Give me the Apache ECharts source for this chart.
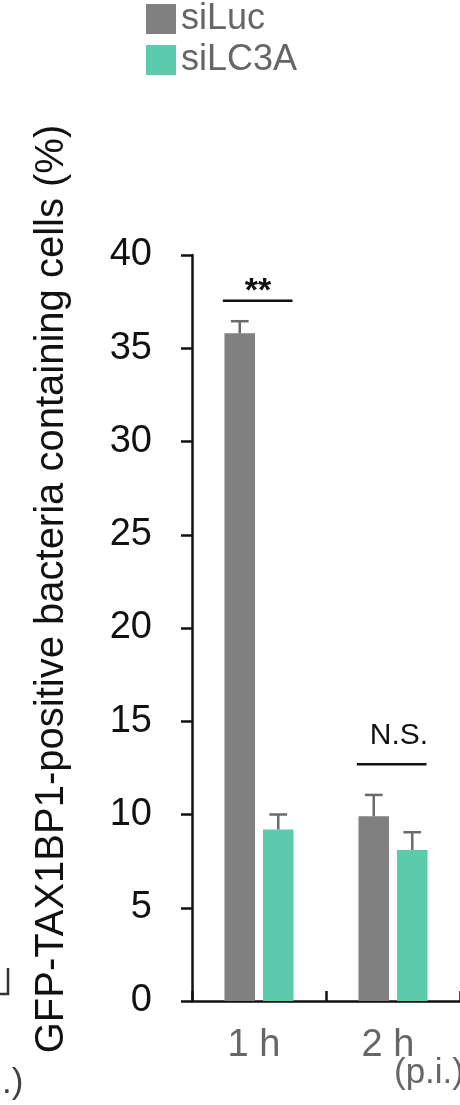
<!DOCTYPE html>
<html>
<head>
<meta charset="utf-8">
<script src="https://cdn.jsdelivr.net/npm/echarts@6/dist/echarts.min.js"></script>
<style>
html,body{margin:0;padding:0;background:#fff;}
#c{width:460px;height:1105px;}
</style>
</head>
<body>
<div id="c"></div>
<script>
// ---- data ----
var categories = ['1 h', '2 h'];
var seriesNames = ['siLuc', 'siLC3A'];
var siLucMean = [35.8, 9.9];
var siLucErr = [0.65, 1.15];
var siLC3AMean = [9.2, 8.1];
var siLC3AErr = [0.8, 0.95];
var yTicks = [0, 5, 10, 15, 20, 25, 30, 35, 40];
var sigLabels = ['**', 'N.S.'];
var sigLevels = [37.55, 12.7];

var FONT = "'Liberation Sans', Arial, sans-serif";
var colors = ['#808080', '#5ccbab'];
var BAR_FRAC = 0.228, GAP_FRAC = 0.26;

function errRender(seriesIdx) {
  return function (params, api) {
    var cat = api.value(0), mean = api.value(1), err = api.value(2);
    var band = api.size([1, 0])[0];
    var bw = band * BAR_FRAC;
    var off = (bw + bw * GAP_FRAC) / 2 * (seriesIdx === 0 ? -1 : 1);
    var p0 = api.coord([cat, mean]);
    var p1 = api.coord([cat, mean + err]);
    var x = p0[0] + off;
    var capHalf = bw * 0.29;
    var st = { stroke: '#6a6a6a', lineWidth: 2.5 };
    return {
      type: 'group',
      children: [
        { type: 'line', shape: { x1: x, y1: p0[1], x2: x, y2: p1[1] }, style: st },
        { type: 'line', shape: { x1: x - capHalf, y1: p1[1], x2: x + capHalf, y2: p1[1] }, style: st }
      ]
    };
  };
}

function sigRender(params, api) {
  var cat = api.value(0), lvl = api.value(1);
  var label = sigLabels[params.dataIndex];
  var band = api.size([1, 0])[0];
  var p = api.coord([cat, lvl]);
  var x1 = p[0] - band * 0.27, x2 = p[0] + band * 0.25;
  var isStar = label === '**';
  return {
    type: 'group',
    children: [
      { type: 'line', shape: { x1: x1, y1: p[1], x2: x2, y2: p[1] }, style: { stroke: '#111', lineWidth: 2.5 } },
      { type: 'text', x: isStar ? p[0] - 1 : p[0] + 6, y: isStar ? p[1] - 9 : p[1] - 28,
        style: { text: label, font: (isStar ? 'bold 34px ' : '30px ') + FONT, fill: '#111', align: 'center', verticalAlign: 'middle' } }
    ]
  };
}

var chart = echarts.init(document.getElementById('c'), null, { renderer: 'canvas' });
chart.setOption({
  animation: false,
  backgroundColor: '#fff',
  legend: {
    data: seriesNames,
    orient: 'vertical',
    left: 141, top: -4,
    itemWidth: 30, itemHeight: 30, itemGap: 5,
    icon: 'rect',
    textStyle: { fontFamily: FONT, fontSize: 36, color: '#666', lineHeight: 30, padding: [0, 0, 0, 0] }
  },
  grid: { left: 192, right: -4, top: 255, bottom: 104 },
  xAxis: {
    type: 'category',
    data: categories,
    axisLine: { lineStyle: { color: '#111', width: 2.5 } },
    axisTick: { show: true, inside: true, length: 10, lineStyle: { color: '#111', width: 2.5 } },
    axisLabel: { fontFamily: FONT, fontSize: 38, color: '#666', margin: 26, padding: [0, 10, 0, 0] },
    splitLine: { show: false }
  },
  yAxis: {
    type: 'value',
    min: 0, max: 40, interval: 5,
    name: 'GFP-TAX1BP1-positive bacteria containing cells (%)',
    nameLocation: 'middle',
    nameGap: 120,
    nameTextStyle: { fontFamily: FONT, fontSize: 40, color: '#111', padding: [0, 0, 0, 78] },
    axisLine: { show: true, lineStyle: { color: '#111', width: 2.5 } },
    axisTick: { show: true, length: 11, lineStyle: { color: '#111', width: 2.5 } },
    axisLabel: { fontFamily: FONT, fontSize: 38, color: '#111', margin: 40,
      formatter: function (v) { return yTicks.indexOf(v) >= 0 ? String(v) : ''; } },
    splitLine: { show: false }
  },
  series: [
    { name: seriesNames[0], type: 'bar', data: siLucMean, barWidth: (BAR_FRAC * 100) + '%', barGap: (GAP_FRAC * 100) + '%',
      itemStyle: { color: colors[0] }, z: 2 },
    { name: seriesNames[1], type: 'bar', data: siLC3AMean, barWidth: (BAR_FRAC * 100) + '%', barGap: (GAP_FRAC * 100) + '%',
      itemStyle: { color: colors[1] }, z: 2 },
    { type: 'custom', renderItem: errRender(0), data: siLucMean.map(function (m, i) { return [i, m, siLucErr[i]]; }), z: 3, silent: true },
    { type: 'custom', renderItem: errRender(1), data: siLC3AMean.map(function (m, i) { return [i, m, siLC3AErr[i]]; }), z: 3, silent: true },
    { type: 'custom', renderItem: sigRender, data: sigLevels.map(function (l, i) { return [i, l]; }), z: 4, silent: true }
  ],
  graphic: [
    { type: 'text', right: -4, top: 1056, style: { text: '(p.i.)', font: '35px ' + FONT, fill: '#666' } },
    { type: 'text', left: 2, top: 1066, style: { text: '.)', font: '35px ' + FONT, fill: '#444' } },
    { type: 'polyline', shape: { points: [[0, 994], [8, 994], [8, 968]] }, style: { stroke: '#333', lineWidth: 2.5, fill: null } }
  ]
});
</script>
</body>
</html>
